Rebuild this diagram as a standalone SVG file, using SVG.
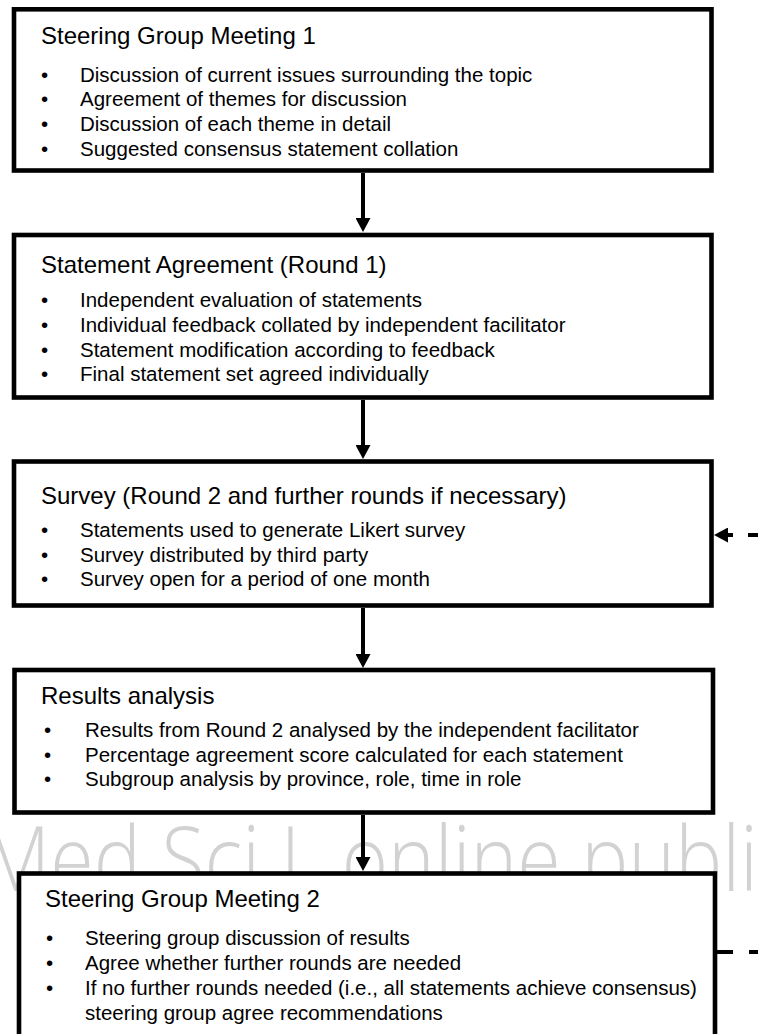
<svg xmlns="http://www.w3.org/2000/svg" width="758" height="1034" viewBox="0 0 758 1034">
<style>
.box{fill:#fff;stroke:#000;stroke-width:4.6}
.t{font-family:"Liberation Sans",Arial,Helvetica,sans-serif;fill:#000}
.h{font-size:24px}
.b{font-size:20.5px}
.c{stroke:#000;stroke-width:4;fill:none}
.d{stroke-dasharray:10 15 20}
.wm{font-family:"Open Sans","Noto Sans",sans-serif;font-size:90px;font-weight:300;fill:#d2d2d2}
</style>
<defs>
<marker id="ah" markerUnits="userSpaceOnUse" markerWidth="15" markerHeight="15" refX="0" refY="7.5" orient="auto">
<path d="M0,0 L14,7.5 L0,15 Z" fill="#000"/>
</marker>
</defs>
<rect width="758" height="1034" fill="#fff"/>
<text class="wm" x="-18" y="891" textLength="776" lengthAdjust="spacingAndGlyphs">Med Sci L online publi</text>
<g id="connectors">
<path class="c" d="M363,173 V218" marker-end="url(#ah)"/>
<path class="c" d="M363,400 V445" marker-end="url(#ah)"/>
<path class="c" d="M363,608 V654" marker-end="url(#ah)"/>
<path class="c" d="M363,815 V857" marker-end="url(#ah)"/>
<path class="c d" d="M758,535 H728" marker-end="url(#ah)"/>
<path class="c" stroke-dasharray="18 16 16" d="M715,952 H758"/>
</g>
<g id="node1">
<rect class="box" x="14" y="9.3" width="697.5" height="161.2"/>
<text class="t h" x="41" y="44">Steering Group Meeting 1</text>
<text class="t b" x="41" y="81.5">•</text><text class="t b" x="80" y="81.5">Discussion of current issues surrounding the topic</text>
<text class="t b" x="41" y="106.3">•</text><text class="t b" x="80" y="106.3">Agreement of themes for discussion</text>
<text class="t b" x="41" y="131.1">•</text><text class="t b" x="80" y="131.1">Discussion of each theme in detail</text>
<text class="t b" x="41" y="155.9">•</text><text class="t b" x="80" y="155.9">Suggested consensus statement collation</text>
</g>
<g id="node2">
<rect class="box" x="14" y="235" width="697.5" height="162.5"/>
<text class="t h" x="41" y="273">Statement Agreement (Round 1)</text>
<text class="t b" x="41" y="307">•</text><text class="t b" x="80" y="307">Independent evaluation of statements</text>
<text class="t b" x="41" y="331.8">•</text><text class="t b" x="80" y="331.8">Individual feedback collated by independent facilitator</text>
<text class="t b" x="41" y="356.6">•</text><text class="t b" x="80" y="356.6">Statement modification according to feedback</text>
<text class="t b" x="41" y="381.4">•</text><text class="t b" x="80" y="381.4">Final statement set agreed individually</text>
</g>
<g id="node3">
<rect class="box" x="14" y="461.5" width="697.5" height="144"/>
<text class="t h" x="41" y="504">Survey (Round 2 and further rounds if necessary)</text>
<text class="t b" x="41" y="536.7">•</text><text class="t b" x="80" y="536.7">Statements used to generate Likert survey</text>
<text class="t b" x="41" y="561.5">•</text><text class="t b" x="80" y="561.5">Survey distributed by third party</text>
<text class="t b" x="41" y="586.3">•</text><text class="t b" x="80" y="586.3">Survey open for a period of one month</text>
</g>
<g id="node4">
<rect class="box" x="14.5" y="670" width="698.5" height="142.5"/>
<text class="t h" x="41" y="704">Results analysis</text>
<text class="t b" x="44" y="736.7">•</text><text class="t b" x="85" y="736.7">Results from Round 2 analysed by the independent facilitator</text>
<text class="t b" x="44" y="761.5">•</text><text class="t b" x="85" y="761.5">Percentage agreement score calculated for each statement</text>
<text class="t b" x="44" y="786.3">•</text><text class="t b" x="85" y="786.3">Subgroup analysis by province, role, time in role</text>
</g>
<g id="node5">
<rect class="box" x="19" y="873.5" width="696" height="200"/>
<text class="t h" x="45" y="906.7">Steering Group Meeting 2</text>
<text class="t b" x="46" y="945">•</text><text class="t b" x="85" y="945">Steering group discussion of results</text>
<text class="t b" x="46" y="970">•</text><text class="t b" x="85" y="970">Agree whether further rounds are needed</text>
<text class="t b" x="46" y="995">•</text><text class="t b" x="85" y="995">If no further rounds needed (i.e., all statements achieve consensus)</text>
<text class="t b" x="85" y="1020">steering group agree recommendations</text>
</g>
</svg>
